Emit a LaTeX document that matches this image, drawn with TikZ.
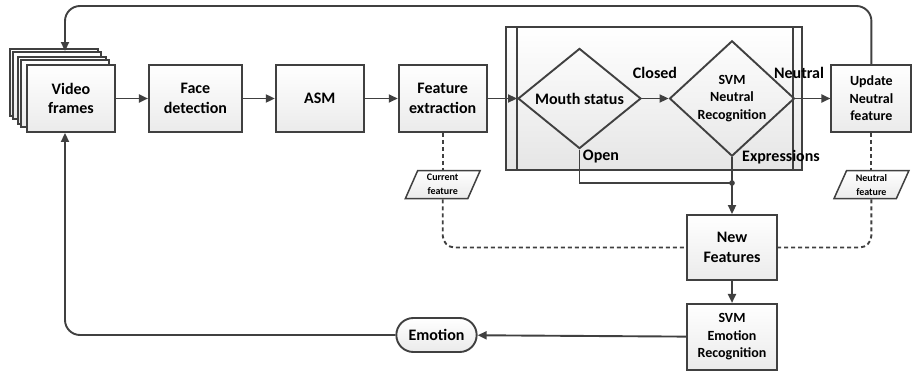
\documentclass[tikz,border=0pt]{standalone}
\usepackage{fontspec}
\setmainfont{Carlito}
\usetikzlibrary{arrows.meta,positioning,shapes.geometric,shapes.misc}
\definecolor{linegray}{HTML}{404040}
\newcommand\boxtext{\bfseries\fontsize{16}{19.5}\selectfont}
\newcommand\midtext{\bfseries\fontsize{14}{17.5}\selectfont}
\newcommand\tinytext{\bfseries\fontsize{10}{14}\selectfont}

\begin{document}
\begin{tikzpicture}[x=1pt, y=1pt, color=linegray, line width=1.9pt,
    >={Triangle[length=9pt,width=8pt]},
    box/.style={rectangle, draw, top color=white, bottom color=gray!16, minimum width=88pt, minimum height=67pt, align=center, inner sep=2pt, text=black, font=\boxtext},
    container/.style={rectangle, draw, top color=white, bottom color=gray!20, minimum width=296pt, minimum height=143pt},
    decision/.style={diamond, draw, align=center, inner sep=0pt, text=black},
    data/.style={trapezium, trapezium left angle=70, trapezium right angle=110, trapezium stretches=true, draw, line width=1.5pt, top color=white, bottom color=gray!16, align=center, text=black, font=\tinytext, minimum width=75pt, minimum height=28pt, inner sep=1pt},
    term/.style={rounded rectangle, draw, top color=white, bottom color=gray!16, minimum width=87pt, minimum height=34pt, text=black, font=\boxtext},
    lbl/.style={inner sep=0pt, text=black, font=\boxtext},
    flow/.style={->},
    link/.style={dash pattern=on 4pt off 3pt, rounded corners=12pt}]

    \useasboundingbox (0,0) rectangle (912,373);

    % stack of frames behind the front one
    \foreach \dx/\dy [count=\i] in {17/16, 14/13, 9/8, 6/5}
        \node[box] (vf\i) at (71-\dx, 274.5+\dy) {};
    \node[box] (video) at (71,274.5) {Video\\frames};
    \node[box, minimum width=93pt] (face) [right=32pt of video] {Face\\detection};
    \node[box] (asm) [right=32pt of face] {ASM};
    \node[box] (feat) [right=33pt of asm] {Feature\\extraction};

    % mouth / neutral block
    \node[container] (proc) at (654,274.5) {};
    \draw ([xshift=12pt]proc.north west) -- ([xshift=12pt]proc.south west);
    \draw ([xshift=-10pt]proc.north east) -- ([xshift=-10pt]proc.south east);
    \node[decision, minimum width=123pt, minimum height=93pt, font=\boxtext] (mouth) at (579.5,274.5) {Mouth status};
    \node[decision, minimum width=125pt, minimum height=93pt, font=\midtext] (svmn) at (732,274.5) {SVM\\Neutral\\Recognition};
    \node[box, minimum width=80pt, font=\midtext] (update) [right=35pt of svmn] {Update\\Neutral\\feature};

    \node[box, minimum width=90pt, minimum height=65pt] (newf) at (732,125.5) {New\\Features};
    \node[box, minimum width=90pt, minimum height=66pt, font=\midtext] (svme) [below=22pt of newf] {SVM\\Emotion\\Recognition};
    \node[term] (emotion) at (436.5,38) {Emotion};

    \node[data] (curf) [below=37pt of feat] {Current\\feature};
    \node[data] (neuf) [below=37pt of update] {Neutral\\feature};

    \node[lbl] (closed) at (655,300) {Closed};
    \node[lbl] (neutral) at (799,300) {Neutral};
    \node[lbl] (open) at (601,216) {Open};
    \node[lbl] (expr) at (781,216) {Expressions};

    \draw[flow] (video) -- (face);
    \draw[flow] (face) -- (asm);
    \draw[flow] (asm) -- (feat);
    \draw[flow] (feat) -- (mouth.west);
    \draw[flow] (mouth) -- (svmn);
    \draw[flow] (svmn) -- (update);

    \coordinate (junc) at (732,190);
    \draw (mouth.south) |- (junc);
    \draw[flow] (svmn.south) -- (newf.north);
    \fill (junc) circle (2.8pt);
    \draw[flow] (newf) -- (svme);
    \draw[flow] (svme) -- (emotion);

    % feedback loops
    \draw[flow, rounded corners=15pt] (emotion.west) -| ([xshift=-6pt]video.south);
    \coordinate (top) at (65,367);
    \draw[flow, rounded corners=15pt] (update.north) |- (top) -- (vf2.north -| top);

    % stored features
    \draw[link] (feat.south) -- (curf.north);
    \draw[link] (curf.south) |- (newf.west);
    \draw[link] (update.south) -- (neuf.north);
    \draw[link] (neuf.south) |- (newf.east);
\end{tikzpicture}
\end{document}
